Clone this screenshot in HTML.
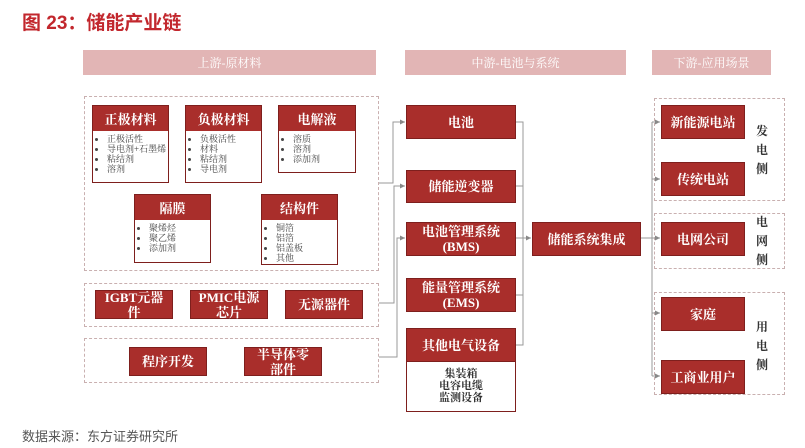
<!DOCTYPE html>
<html><head><meta charset="utf-8"><style>
body{margin:0;width:805px;height:448px;background:#fff;position:relative;overflow:hidden;font-family:"Liberation Sans","Noto Sans CJK SC",sans-serif}
.a{position:absolute;box-sizing:border-box}
.hd{background:#e2b5b5;color:#fff;font-size:12px;display:flex;align-items:center;justify-content:center;font-family:"Liberation Serif","Noto Serif CJK SC",serif}
.dash{border:1.5px dashed #c9b0b0}
.r{background:#a92e2b;border:1px solid #7e1f1d;color:#fff;display:flex;align-items:center;justify-content:center;text-align:center;font-size:13px;line-height:15px;font-family:"Liberation Serif","Noto Serif CJK SC",serif;font-weight:bold}
.card{border:1.5px solid #7e1f1d;background:#fff}
.card .t{background:#a92e2b;color:#fff;height:25px;display:flex;align-items:center;justify-content:center;font-size:13px;font-weight:bold;font-family:"Liberation Serif","Noto Serif CJK SC",serif}
.card ul{margin:3px 0 0 0;padding:0 0 0 14px;font-size:9px;line-height:10px;color:#444;font-family:"Liberation Serif","Noto Serif CJK SC",serif}
.side{font-size:12px;font-weight:bold;color:#333;line-height:19px;width:14px;font-family:"Liberation Serif","Noto Serif CJK SC",serif}
</style></head><body>
<div class="a" style="left:22px;top:8px;font-size:19px;font-weight:bold;color:#c2272d">图 23：储能产业链</div>
<div class="a hd" style="left:83px;top:50px;width:293px;height:25px">上游-原材料</div>
<div class="a hd" style="left:405px;top:50px;width:221px;height:25px">中游-电池与系统</div>
<div class="a hd" style="left:652px;top:50px;width:119px;height:25px">下游-应用场景</div>

<div class="a dash" style="left:84px;top:96px;width:295px;height:175px"></div>
<div class="a card" style="left:92px;top:105px;width:77px;height:78px"><div class="t">正极材料</div><ul><li>正极活性</li><li>导电剂+石墨烯</li><li>粘结剂</li><li>溶剂</li></ul></div>
<div class="a card" style="left:185px;top:105px;width:77px;height:78px"><div class="t">负极材料</div><ul><li>负极活性</li><li>材料</li><li>粘结剂</li><li>导电剂</li></ul></div>
<div class="a card" style="left:278px;top:105px;width:78px;height:68px"><div class="t">电解液</div><ul><li>溶质</li><li>溶剂</li><li>添加剂</li></ul></div>
<div class="a card" style="left:134px;top:194px;width:77px;height:69px"><div class="t">隔膜</div><ul><li>聚烯烃</li><li>聚乙烯</li><li>添加剂</li></ul></div>
<div class="a card" style="left:261px;top:194px;width:77px;height:71px"><div class="t">结构件</div><ul><li>铜箔</li><li>铝箔</li><li>铝盖板</li><li>其他</li></ul></div>

<div class="a dash" style="left:84px;top:283px;width:295px;height:44px"></div>
<div class="a r" style="left:95px;top:290px;width:78px;height:29px">IGBT元器<br>件</div>
<div class="a r" style="left:190px;top:290px;width:78px;height:29px">PMIC电源<br>芯片</div>
<div class="a r" style="left:285px;top:290px;width:78px;height:29px">无源器件</div>
<div class="a dash" style="left:84px;top:338px;width:295px;height:45px"></div>
<div class="a r" style="left:129px;top:347px;width:78px;height:29px">程序开发</div>
<div class="a r" style="left:244px;top:347px;width:78px;height:29px">半导体零<br>部件</div>

<div class="a r" style="left:406px;top:105px;width:110px;height:34px">电池</div>
<div class="a r" style="left:406px;top:170px;width:110px;height:33px">储能逆变器</div>
<div class="a r" style="left:406px;top:222px;width:110px;height:34px">电池管理系统<br>(BMS)</div>
<div class="a r" style="left:406px;top:278px;width:110px;height:34px">能量管理系统<br>(EMS)</div>
<div class="a r" style="left:406px;top:328px;width:110px;height:34px">其他电气设备</div>
<div class="a" style="left:406px;top:361px;width:110px;height:51px;border:1.5px solid #7e1f1d;border-top:none;display:flex;align-items:center;justify-content:center;text-align:center;font-size:11px;line-height:12px;font-family:'Liberation Serif','Noto Serif CJK SC',serif;color:#333;font-weight:bold">集装箱<br>电容电缆<br>监测设备</div>
<div class="a r" style="left:532px;top:222px;width:109px;height:34px">储能系统集成</div>

<div class="a dash" style="left:654px;top:98px;width:131px;height:103px"></div>
<div class="a dash" style="left:654px;top:213px;width:131px;height:56px"></div>
<div class="a dash" style="left:654px;top:292px;width:131px;height:103px"></div>
<div class="a r" style="left:661px;top:105px;width:84px;height:34px">新能源电站</div>
<div class="a r" style="left:661px;top:162px;width:84px;height:34px">传统电站</div>
<div class="a r" style="left:661px;top:222px;width:84px;height:34px">电网公司</div>
<div class="a r" style="left:661px;top:297px;width:84px;height:34px">家庭</div>
<div class="a r" style="left:661px;top:360px;width:84px;height:34px">工商业用户</div>
<div class="a side" style="left:756px;top:122px">发<br>电<br>侧</div>
<div class="a side" style="left:756px;top:213px">电<br>网<br>侧</div>
<div class="a side" style="left:756px;top:318px">用<br>电<br>侧</div>

<svg class="a" style="left:0;top:0" width="805" height="448">
<defs><marker id="m" markerWidth="6" markerHeight="6" refX="5" refY="3" orient="auto"><path d="M0,0.5 L5,3 L0,5.5z" fill="#888"/></marker></defs>
<g stroke="#999" stroke-width="1" fill="none">
<path d="M379,183 H393 V122 H405" marker-end="url(#m)"/>
<path d="M379,303 H394 V186 H405" marker-end="url(#m)"/>
<path d="M379,357 H397 V238 H405" marker-end="url(#m)"/>
<path d="M516,122 H523 V345 H516 M516,186 H523 M516,295 H523 M523,238 H531" marker-end="url(#m)"/>
<path d="M516,238 H523"/>
<path d="M641,238 H652 M652,122 V376"/>
<path d="M652,122 H660" marker-end="url(#m)"/>
<path d="M652,179 H660" marker-end="url(#m)"/>
<path d="M652,238 H660" marker-end="url(#m)"/>
<path d="M652,313 H660" marker-end="url(#m)"/>
<path d="M652,376 H660" marker-end="url(#m)"/>
</g></svg>
<div class="a" style="left:22px;top:426px;font-size:13px;color:#555">数据来源：东方证券研究所</div>
</body></html>
